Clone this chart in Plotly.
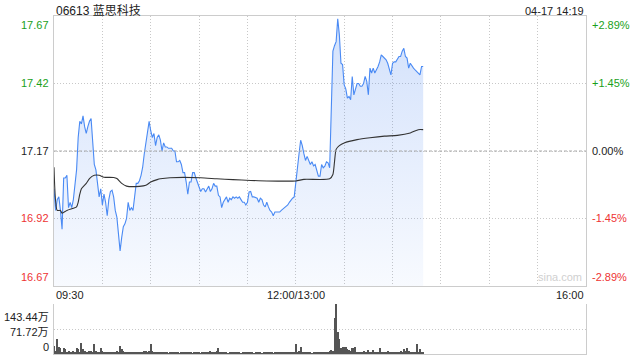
import plotly.graph_objects as go

# ---------------- data ----------------
TITLE = "06613 蓝思科技"
STAMP = "04-17 14:19"
PREV_CLOSE = 17.17
PRICE_TICKS = [16.67, 16.92, 17.17, 17.42, 17.67]
PCT_TEXT = ["-2.89%", "-1.45%", "0.00%", "+1.45%", "+2.89%"]
VOL_TICKS = [0, 71.72, 143.44]
VOL_TEXT = ["0", "71.72万", "143.44万"]
TIME_TICKS = [0, 150, 330]          # trading-minute index
TIME_TEXT = ["09:30", "12:00/13:00", "16:00"]
GRID_MINUTES = [30, 60, 90, 120, 150, 180, 210, 240, 270, 300]

# one price per trading minute from 09:30 (index 0) to 14:19 (index 229)
price = [
    17.03, 16.95, 16.99, 17.00, 16.95, 16.88, 17.07, 17.07, 17.08, 16.96,
    16.98, 16.96, 16.99, 17.04, 17.10, 17.22, 17.28, 17.27, 17.30, 17.26,
    17.235, 17.26, 17.28, 17.29, 17.20, 17.12, 17.10, 17.05, 17.00, 17.03,
    16.97, 17.01, 16.98, 16.93, 16.99, 17.02, 17.025, 17.00, 16.95, 16.925,
    16.87, 16.80, 16.85, 16.89, 16.90, 16.92, 16.98, 16.95, 16.96, 16.95,
    17.00, 17.05, 17.05, 17.06, 17.08, 17.11, 17.16, 17.20, 17.24, 17.28,
    17.245, 17.22, 17.235, 17.19, 17.22, 17.23, 17.21, 17.17, 17.20, 17.185,
    17.185, 17.18, 17.18, 17.18, 17.17, 17.17, 17.13, 17.13, 17.135, 17.12,
    17.09, 17.09, 17.055, 17.01, 17.055, 17.055, 17.09, 17.09, 17.07, 17.055,
    17.04, 17.02, 17.03, 17.03, 17.018, 17.03, 17.04, 17.02, 17.03, 17.05,
    17.04, 17.04, 17.006, 17.00, 16.96, 16.98, 16.99, 17.00, 16.98, 16.995,
    16.99, 17.00, 16.995, 17.00, 16.995, 17.00, 16.99, 16.98, 16.98, 16.97,
    16.98, 17.018, 17.02, 17.00, 17.00, 16.997, 16.995, 16.98, 16.995, 16.99,
    16.97, 16.963, 16.98, 16.963, 16.95, 16.944, 16.93, 16.944, 16.944, 16.944,
    16.944, 16.95, 16.955, 16.96, 16.963, 16.97, 16.98, 16.99, 16.995, 17.00,
    17.06, 17.115, 17.16, 17.21, 17.19, 17.16, 17.135, 17.15, 17.135, 17.12,
    17.13, 17.115, 17.12, 17.095, 17.077, 17.077, 17.12, 17.108, 17.114, 17.13,
    17.126, 17.108, 17.31, 17.54, 17.56, 17.575, 17.66, 17.60, 17.495, 17.49,
    17.415, 17.40, 17.366, 17.372, 17.36, 17.446, 17.378, 17.403, 17.42, 17.42,
    17.41, 17.41, 17.42, 17.446, 17.428, 17.378, 17.477, 17.459, 17.477, 17.459,
    17.47, 17.483, 17.50, 17.526, 17.52, 17.514, 17.508, 17.495, 17.477, 17.452,
    17.495, 17.50, 17.50, 17.508, 17.52, 17.52, 17.54, 17.55, 17.52, 17.514,
    17.477, 17.495, 17.483, 17.477, 17.47, 17.465, 17.459, 17.452, 17.483, 17.483,
]

# average-price line (minute index, price)
avg_min = [0, 2, 4, 5, 8, 12, 14, 15, 16, 17, 20, 22, 25, 28, 31, 37, 39, 42,
           45, 53, 57, 60, 64, 66, 72, 91, 101, 111, 122, 132, 150, 155, 171,
           173, 174, 175, 177, 180, 188, 196, 205, 213, 221, 226, 229]
avg_price = [17.11, 16.95, 16.95, 16.94, 16.95, 16.958, 16.963, 16.98, 17.01,
             17.03, 17.05, 17.068, 17.08, 17.08, 17.073, 17.072, 17.068, 17.05,
             17.04, 17.039, 17.043, 17.055, 17.064, 17.067, 17.071, 17.071,
             17.067, 17.064, 17.061, 17.059, 17.059, 17.065, 17.067, 17.083,
             17.13, 17.176, 17.19, 17.20, 17.212, 17.219, 17.225, 17.228,
             17.237, 17.249, 17.249]

# volume per minute, in 万 shares
volume = [
    22, 9, 42, 20, 16, 7, 18, 15, 6, 8,
    4, 5, 10, 4, 17, 14, 6, 32, 14, 10,
    6, 4, 8, 10, 5, 28, 10, 6, 4, 17,
    8, 4, 6, 5, 3, 5, 4, 6, 3, 8,
    5, 22, 14, 8, 4, 5, 3, 4, 6, 5,
    3, 6, 5, 3, 6, 4, 8, 8, 5, 10,
    30, 8, 4, 6, 3, 4, 5, 3, 4, 6,
    3, 2, 4, 5, 3, 4, 6, 3, 2, 4,
    5, 3, 6, 4, 3, 5, 2, 4, 3, 5,
    4, 2, 3, 6, 4, 3, 5, 8, 4, 3,
    6, 9, 17, 6, 4, 3, 5, 4, 2, 3,
    5, 4, 3, 6, 4, 3, 2, 4, 3, 5,
    4, 3, 6, 4, 2, 3, 5, 4, 3, 2,
    4, 3, 5, 6, 3, 4, 2, 3, 5, 4,
    3, 4, 6, 3, 5, 4, 7, 3, 5, 4,
    29, 6, 8, 21, 5, 4, 3, 5, 4, 3,
    2, 4, 3, 5, 4, 6, 3, 4, 5, 3,
    6, 8, 11, 9, 103, 143.44, 62, 43, 17, 21,
    19, 21, 14, 11, 9, 16, 16, 21, 6, 7,
    5, 6, 9, 4, 5, 11, 5, 4, 11, 5,
    6, 4, 17, 6, 5, 7, 4, 8, 5, 4,
    6, 5, 4, 7, 5, 9, 6, 14, 8, 16,
    9, 5, 7, 4, 7, 30, 5, 14, 4, 3,
]

minutes = list(range(len(price)))
vol_minutes = list(range(len(volume)))

# ---------------- style ----------------
FONT = "Liberation Sans, Arial, Noto Sans CJK SC, sans-serif"
GREEN = "#1a9f1a"
RED = "#ee3333"
DARK = "#222222"
BORDER = "#cccccc"
GRID = "#c8c8c8"
LINE_BLUE = "#4a8af4"

X_DOM = [54 / 640, 586 / 640]
Y_MAIN = [1 - 286 / 360, 1 - 16 / 360]
Y_VOL = [1 - 354 / 360, 1 - 304 / 360]

fig = go.Figure()

# baseline for the gradient fill
fig.add_trace(go.Scatter(
    x=minutes, y=[PRICE_TICKS[0]] * len(minutes), mode="lines",
    line=dict(width=0, color="rgba(0,0,0,0)"), showlegend=False,
    hoverinfo="skip", xaxis="x", yaxis="y"))
fig.add_trace(go.Scatter(
    x=minutes, y=price, mode="lines", fill="tonexty",
    fillgradient=dict(type="vertical", colorscale=[
        [0, "rgba(70,130,240,0.04)"], [1, "rgba(70,130,240,0.24)"]]),
    line=dict(color=LINE_BLUE, width=1.1), showlegend=False,
    xaxis="x", yaxis="y"))
fig.add_trace(go.Scatter(
    x=avg_min, y=avg_price, mode="lines",
    line=dict(color="#333333", width=1.1, shape="spline", smoothing=0.6),
    showlegend=False, xaxis="x", yaxis="y"))
fig.add_trace(go.Bar(
    x=vol_minutes, y=volume, width=0.62, marker=dict(color="#555555", line=dict(width=0)),
    showlegend=False, xaxis="x2", yaxis="y2"))

annotations = []
# price labels (left) and percent labels (right)
for i, (p, t) in enumerate(zip(PRICE_TICKS, PCT_TEXT)):
    col = RED if p < PREV_CLOSE else (GREEN if p > PREV_CLOSE else DARK)
    anchor = "bottom" if i == 0 else ("top" if i == len(PRICE_TICKS) - 1 else "middle")
    ysh = 1 if i == 0 else (-1 if i == len(PRICE_TICKS) - 1 else 0)
    annotations.append(dict(x=X_DOM[0], xref="paper", xanchor="right", xshift=-3,
                            y=p, yref="y", yanchor=anchor, yshift=ysh,
                            text=f"{p:.2f}", showarrow=False,
                            font=dict(color=col, size=11, family=FONT)))
    annotations.append(dict(x=X_DOM[1], xref="paper", xanchor="left", xshift=4,
                            y=p, yref="y", yanchor=anchor, yshift=ysh,
                            text=t, showarrow=False,
                            font=dict(color=col, size=11, family=FONT)))
# time labels
for m, t, xa in zip(TIME_TICKS, TIME_TEXT, ["left", "center", "right"]):
    annotations.append(dict(x=m, xref="x", xanchor=xa, y=Y_MAIN[0], yref="paper",
                            yanchor="top", yshift=-1, text=t, showarrow=False,
                            font=dict(color=DARK, size=11, family=FONT)))
# volume labels
vol_shift = [-1, -3, -5]
for i, (v, t) in enumerate(zip(VOL_TICKS, VOL_TEXT)):
    anchor = "bottom" if i == 0 else ("top" if i == len(VOL_TICKS) - 1 else "middle")
    annotations.append(dict(x=X_DOM[0], xref="paper", xanchor="right", xshift=-3,
                            y=v, yref="y2", yanchor=anchor, yshift=vol_shift[i],
                            text=t, showarrow=False,
                            font=dict(color=DARK, size=11, family=FONT)))
# title and time stamp
annotations.append(dict(x=X_DOM[0], xref="paper", xanchor="left", xshift=0,
                        y=Y_MAIN[1], yref="paper", yanchor="bottom", yshift=-4,
                        text=TITLE, showarrow=False,
                        font=dict(color=DARK, size=12, family=FONT)))
annotations.append(dict(x=X_DOM[1], xref="paper", xanchor="right",
                        y=Y_MAIN[1], yref="paper", yanchor="bottom", yshift=-3,
                        text=STAMP, showarrow=False,
                        font=dict(color=DARK, size=11, family=FONT)))
# watermark
annotations.append(dict(x=X_DOM[1], xref="paper", xanchor="right", xshift=-2,
                        y=Y_MAIN[0], yref="paper", yanchor="bottom", yshift=1,
                        text="sina.com", showarrow=False,
                        font=dict(color="#d0d0d0", size=11, family=FONT)))

shapes = [dict(type="line", xref="x domain", x0=0, x1=1, yref="y",
               y0=PREV_CLOSE, y1=PREV_CLOSE, layer="above",
               line=dict(color="#aaaaaa", width=1, dash="3px,2px"))]

fig.update_layout(
    width=640, height=360, autosize=False,
    margin=dict(l=0, r=0, t=0, b=0, pad=0),
    paper_bgcolor="white", plot_bgcolor="white",
    showlegend=False, bargap=0,
    font=dict(family=FONT, size=11, color=DARK),
    xaxis=dict(domain=X_DOM, range=[0, 330], anchor="y",
               tickvals=GRID_MINUTES, showticklabels=False, ticks="",
               showgrid=True, gridcolor=GRID, griddash="1px,2px", gridwidth=1,
               zeroline=False, showline=True, mirror=True, linecolor=BORDER,
               linewidth=1, fixedrange=True),
    yaxis=dict(domain=Y_MAIN, range=[PRICE_TICKS[0], PRICE_TICKS[-1]], anchor="x",
               tickvals=PRICE_TICKS[1:-1], showticklabels=False, ticks="",
               showgrid=True, gridcolor=GRID, griddash="1px,2px", gridwidth=1,
               zeroline=False, showline=True, mirror=True, linecolor=BORDER,
               linewidth=1, fixedrange=True),
    xaxis2=dict(domain=X_DOM, range=[0, 330], anchor="y2",
                showticklabels=False, ticks="", showgrid=False,
                zeroline=False, showline=True, mirror=False, linecolor=BORDER,
                linewidth=1, fixedrange=True),
    yaxis2=dict(domain=Y_VOL, range=[VOL_TICKS[0], VOL_TICKS[-1]], anchor="x2",
                tickvals=VOL_TICKS[1:], showticklabels=False, ticks="",
                showgrid=True, gridcolor=GRID, griddash="1px,2px", gridwidth=1,
                zeroline=False, showline=True, mirror=True, linecolor=BORDER,
                linewidth=1, fixedrange=True),
    annotations=annotations, shapes=shapes,
)

fig.write_html("out.html", config={"displayModeBar": False})
